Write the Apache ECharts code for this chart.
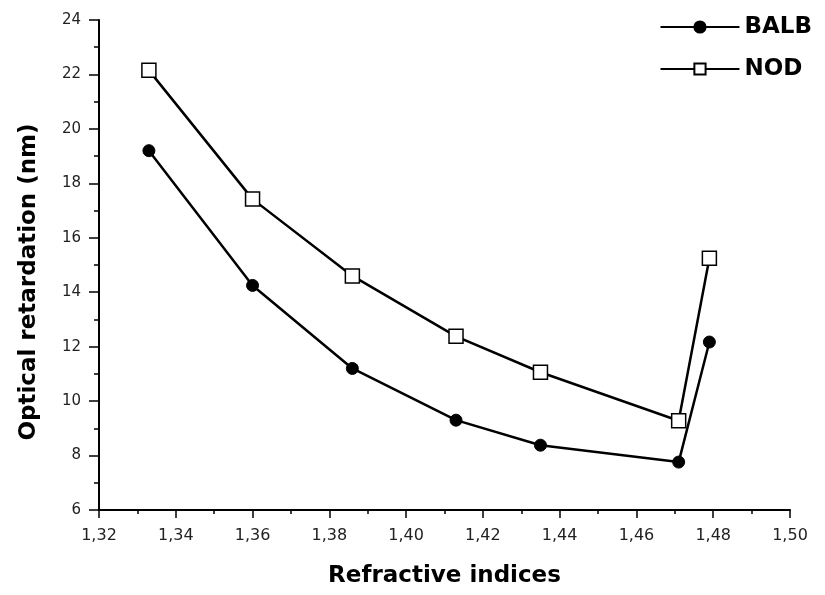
<!DOCTYPE html>
<html>
<head>
<meta charset="utf-8">
<script src="https://cdn.jsdelivr.net/npm/echarts@6/dist/echarts.min.js"></script>
<style>html,body{margin:0;padding:0;background:#fff;}#c{width:825px;height:595px;}</style>
</head>
<body>
<div id="c"></div>
<script>
const refractiveIndex = [1.333, 1.360, 1.386, 1.413, 1.435, 1.471, 1.479];
const balb = [19.2, 14.25, 11.2, 9.3, 8.38, 7.76, 12.17];
const nod = [22.15, 17.42, 14.6, 12.38, 11.06, 9.28, 15.25];
const seriesNames = ['BALB', 'NOD'];
const xAxisTitle = 'Refractive indices';
const yAxisTitle = 'Optical retardation (nm)';

const labelFont = '"DejaVu Sans", "Liberation Sans", sans-serif';
const titleFont = '"DejaVu Sans", "Liberation Sans", sans-serif';
const chart = echarts.init(document.getElementById('c'));
const pairs = (ys) => refractiveIndex.map((x, i) => [x, ys[i]]);
chart.setOption({
  animation: false,
  backgroundColor: '#fff',
  grid: { left: 99, right: 35, top: 20, bottom: 85, containLabel: false },
  legend: {
    orient: 'vertical', right: 8, top: 10, itemGap: 18,
    itemWidth: 79, itemHeight: 14,
    textStyle: { fontFamily: titleFont, fontSize: 23, fontWeight: 'bold', color: '#000', lineHeight: 24 },
    data: seriesNames
  },
  graphic: [{
    type: 'text', x: 29, y: 282, rotation: Math.PI / 2,
    style: { text: yAxisTitle, fill: '#000', align: 'center', verticalAlign: 'middle',
      font: 'bold 23px ' + titleFont }
  }],
  xAxis: {
    type: 'value', min: 1.32, max: 1.50, interval: 0.02,
    name: xAxisTitle, nameLocation: 'middle', nameGap: 55,
    nameTextStyle: { fontFamily: titleFont, fontSize: 23, fontWeight: 'bold', color: '#000' },
    axisLine: { lineStyle: { color: '#000', width: 2 } },
    axisTick: { show: true, inside: false, length: 8, lineStyle: { color: '#000', width: 1.5 } },
    minorTick: { show: true, splitNumber: 2, length: 4, lineStyle: { color: '#000', width: 1.5 } },
    splitLine: { show: false },
    axisLabel: { fontFamily: labelFont, fontSize: 16, color: '#222', margin: 18,
      formatter: v => v.toFixed(2).replace('.', ',') }
  },
  yAxis: {
    type: 'value', min: 6, max: 24, interval: 2,
    axisLine: { show: true, lineStyle: { color: '#000', width: 2 } },
    axisTick: { show: true, inside: false, length: 10, lineStyle: { color: '#000', width: 1.5 } },
    minorTick: { show: true, splitNumber: 2, length: 5, lineStyle: { color: '#000', width: 1.5 } },
    splitLine: { show: false },
    axisLabel: { fontFamily: labelFont, fontSize: 15, color: '#222', margin: 18 }
  },
  series: [
    {
      name: seriesNames[0], type: 'line', data: pairs(balb),
      symbol: 'circle', symbolSize: 12,
      lineStyle: { color: '#000', width: 2.5 },
      itemStyle: { color: '#000', borderColor: '#000', borderWidth: 1 }
    },
    {
      name: seriesNames[1], type: 'line', data: pairs(nod),
      symbol: 'rect', symbolSize: 14,
      lineStyle: { color: '#000', width: 2.5 },
      itemStyle: { color: '#fff', borderColor: '#000', borderWidth: 1.5 }
    }
  ]
});
</script>
</body>
</html>
